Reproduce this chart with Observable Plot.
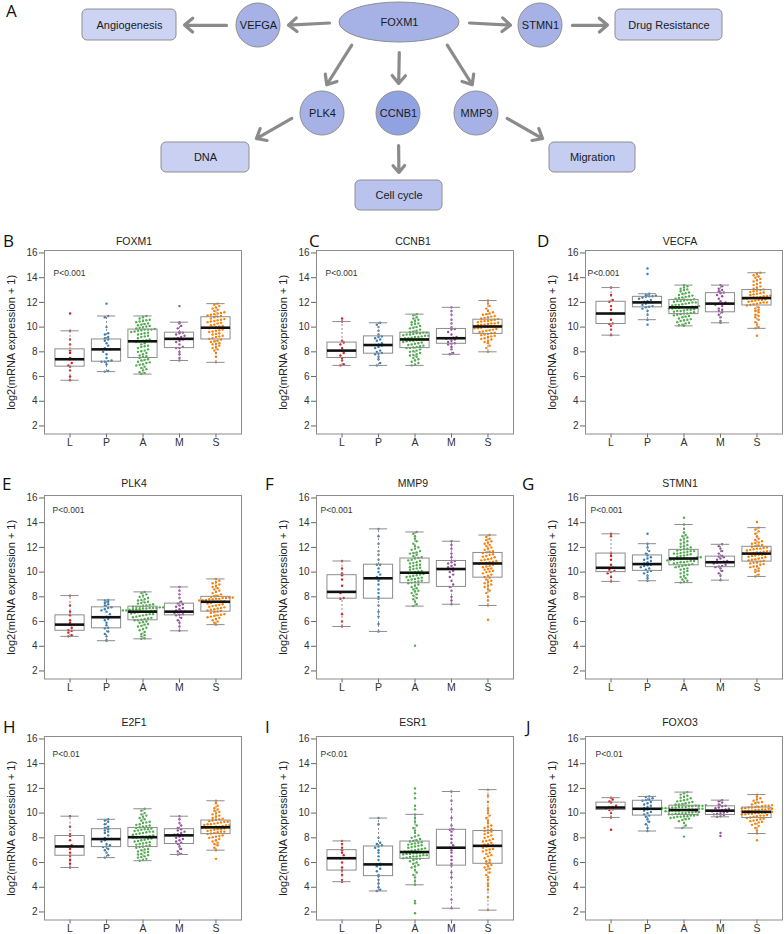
<!DOCTYPE html>
<html>
<head>
<meta charset="utf-8">
<script src="https://cdn.jsdelivr.net/npm/d3@7"></script>
<script src="https://cdn.jsdelivr.net/npm/@observablehq/plot@0.6"></script>
<style>
  body { margin: 0; background: #fff; }
  #fig { position: relative; width: 784px; height: 934px; overflow: hidden; font-family: "Liberation Sans", Arial, sans-serif; color: #222; }
  .abs { position: absolute; }
  .letter { font-family: "Open Sans", "Liberation Sans", sans-serif; font-size: 17px; line-height: 17px; color: #111; }
  .ptitle { font-size: 10.5px; line-height: 11px; text-align: center; color: #222; }
  svg { overflow: visible; }
</style>
</head>
<body>
<div id="fig"></div>
<script>
// ---------------- DATA ----------------
const groups = ["L", "P", "A", "M", "S"];
const genes = ["FOXM1", "CCNB1", "VECFA", "PLK4", "MMP9", "STMN1", "E2F1", "ESR1", "FOXO3"];
const panelLetters = ["B", "C", "D", "E", "F", "G", "H", "I", "J"];
const pLabels = ["P<0.001", "P<0.001", "P<0.001", "P<0.001", "P<0.001", "P<0.001", "P<0.01", "P<0.01", "P<0.01"];
const yTickValues = [2, 4, 6, 8, 10, 12, 14, 16];
const yAxisLabel = "log2(mRNA expression + 1)";

// box statistics per group: [lower whisker, Q1, median, Q3, upper whisker]
const boxFOXM1 = [[5.7, 6.8, 7.4, 8.2, 9.7], [6.4, 7.2, 8.2, 9.0, 10.9], [6.2, 7.5, 8.85, 9.8, 10.9], [7.3, 8.3, 9.05, 9.55, 10.4], [7.15, 9.0, 9.95, 10.8, 11.9]];
const boxCCNB1 = [[6.9, 7.5, 8.1, 8.75, 10.45], [6.9, 7.85, 8.55, 9.25, 10.35], [6.9, 8.3, 9.0, 9.55, 11.05], [7.8, 8.65, 9.1, 9.85, 11.6], [8.0, 9.45, 10.05, 10.6, 12.15]];
const boxVECFA = [[9.35, 10.25, 11.1, 12.05, 13.2], [10.6, 11.6, 12.0, 12.45, 12.7], [10.1, 11.05, 11.6, 12.2, 13.4], [10.35, 11.2, 11.9, 12.75, 13.4], [9.9, 11.75, 12.35, 13.0, 14.4]];
const boxPLK4 = [[4.8, 5.25, 5.75, 6.5, 8.1], [4.45, 5.45, 6.35, 7.15, 7.75], [4.6, 6.1, 6.8, 7.2, 8.4], [5.25, 6.5, 6.8, 7.45, 8.8], [5.75, 6.8, 7.6, 8.0, 9.45]];
const boxMMP9 = [[5.6, 7.85, 8.4, 9.75, 10.9], [5.2, 7.85, 9.5, 10.6, 13.5], [7.25, 9.1, 9.95, 11.1, 13.25], [7.4, 8.8, 10.25, 10.9, 12.5], [7.3, 9.55, 10.7, 11.55, 13.0]];
const boxSTMN1 = [[9.25, 10.0, 10.35, 11.5, 13.1], [9.3, 10.1, 10.65, 11.35, 12.3], [9.15, 10.55, 11.1, 11.8, 13.85], [9.35, 10.4, 10.8, 11.25, 12.25], [9.65, 10.85, 11.5, 12.05, 13.6]];
const boxE2F1 = [[5.6, 6.55, 7.3, 8.15, 9.75], [6.4, 7.25, 7.9, 8.7, 9.5], [6.15, 7.25, 8.05, 8.8, 10.35], [6.65, 7.5, 8.2, 8.7, 9.75], [7.0, 8.3, 8.85, 9.4, 11.0]];
const boxESR1 = [[4.45, 5.35, 6.35, 7.0, 7.75], [3.7, 4.9, 5.85, 7.3, 9.6], [4.2, 6.3, 6.85, 7.7, 9.9], [2.3, 5.75, 7.2, 8.65, 11.75], [2.15, 5.9, 7.35, 8.55, 11.9]];
const boxFOXO3 = [[9.65, 10.25, 10.45, 10.85, 11.25], [8.55, 9.8, 10.35, 11.0, 11.35], [8.8, 9.85, 10.25, 10.6, 11.7], [9.7, 9.85, 10.2, 10.55, 11.05], [8.35, 9.6, 10.1, 10.45, 11.5]];

// individual samples per group (L, P, A, M, S)
const ptsFOXM1 = [
  "5.7 6.0 6.5 6.8 6.9 7.1 7.4 7.5 7.9 8.1 8.6 9.0 9.7 11.1",
  "6.4 6.45 7.0 7.2 7.2 7.25 7.3 7.5 7.8 8.0 8.2 8.2 8.3 8.5 8.7 8.9 9.0 9.1 9.2 9.4 9.5 10.0 10.8 10.9 11.9",
  "6.2 6.3 6.35 6.5 6.6 6.7 6.8 6.9 6.95 7.0 7.1 7.15 7.2 7.3 7.35 7.4 7.5 7.6 7.65 7.7 7.8 7.9 8.0 8.05 8.1 8.2 8.3 8.4 8.45 8.5 8.6 8.7 8.8 8.85 8.9 8.95 9.0 9.1 9.2 9.25 9.3 9.4 9.45 9.5 9.55 9.6 9.65 9.7 9.75 9.8 9.8 9.8 9.85 9.9 9.95 10.0 10.05 10.1 10.15 10.2 10.25 10.3 10.4 10.45 10.5 10.55 10.6 10.7 10.8 10.9",
  "7.3 7.5 7.8 8.0 8.3 8.3 8.4 8.6 8.8 8.9 9.0 9.05 9.1 9.2 9.3 9.4 9.5 9.55 9.6 9.9 10.1 10.3 10.4 11.7",
  "7.15 7.6 7.9 8.1 8.2 8.3 8.4 8.5 8.6 8.65 8.7 8.8 8.85 8.9 9.0 9.05 9.1 9.2 9.25 9.3 9.4 9.45 9.5 9.6 9.65 9.7 9.75 9.8 9.9 9.95 10.0 10.05 10.1 10.15 10.2 10.3 10.35 10.4 10.45 10.5 10.55 10.6 10.65 10.7 10.8 10.85 10.9 10.95 11.0 11.05 11.1 11.15 11.2 11.3 11.4 11.5 11.6 11.7 11.8 11.9"
];
const ptsCCNB1 = [
  "6.9 7.0 7.3 7.5 7.7 7.9 8.1 8.3 8.6 8.75 8.9 10.45 10.7",
  "6.9 7.1 7.4 7.6 7.8 7.85 7.9 8.0 8.1 8.3 8.4 8.5 8.55 8.6 8.7 8.9 9.0 9.1 9.2 9.25 9.4 9.7 10.0 10.2 10.35",
  "6.9 6.95 7.1 7.2 7.3 7.4 7.5 7.6 7.7 7.75 7.8 7.9 8.0 8.05 8.1 8.2 8.3 8.3 8.35 8.4 8.45 8.5 8.55 8.6 8.65 8.7 8.75 8.8 8.85 8.9 8.9 8.95 9.0 9.0 9.0 9.05 9.1 9.1 9.15 9.2 9.2 9.25 9.3 9.3 9.35 9.4 9.4 9.45 9.5 9.5 9.55 9.55 9.6 9.65 9.7 9.8 9.9 9.95 10.0 10.1 10.2 10.25 10.3 10.4 10.5 10.6 10.7 10.8 10.95 11.05",
  "7.8 7.9 8.2 8.4 8.6 8.65 8.7 8.8 8.9 9.0 9.05 9.1 9.15 9.2 9.4 9.6 9.8 9.85 10.0 10.3 10.6 11.0 11.3 11.6",
  "8.0 8.3 8.5 8.7 8.8 8.9 9.0 9.05 9.1 9.2 9.25 9.3 9.35 9.4 9.45 9.5 9.55 9.6 9.65 9.7 9.75 9.8 9.85 9.9 9.9 9.95 10.0 10.0 10.05 10.05 10.1 10.1 10.15 10.2 10.2 10.25 10.3 10.3 10.35 10.4 10.45 10.5 10.5 10.55 10.6 10.65 10.7 10.75 10.8 10.85 10.9 11.0 11.05 11.1 11.2 11.3 11.5 11.7 11.9 12.15"
];
const ptsVECFA = [
  "9.35 9.8 10.1 10.25 10.3 10.6 11.1 11.4 11.7 12.05 12.2 12.6 13.2",
  "10.2 10.6 11.0 11.3 11.5 11.6 11.65 11.7 11.8 11.9 12.0 12.0 12.05 12.1 12.2 12.3 12.4 12.45 12.5 12.5 12.55 12.6 12.7 14.3 14.75",
  "10.1 10.15 10.2 10.3 10.35 10.4 10.5 10.55 10.6 10.65 10.7 10.8 10.85 10.9 10.95 11.0 11.05 11.1 11.1 11.15 11.2 11.25 11.3 11.3 11.35 11.4 11.4 11.45 11.5 11.5 11.55 11.55 11.6 11.6 11.6 11.65 11.65 11.7 11.75 11.8 11.8 11.85 11.9 11.95 12.0 12.0 12.05 12.1 12.1 12.15 12.2 12.2 12.25 12.3 12.35 12.4 12.45 12.5 12.55 12.6 12.7 12.75 12.8 12.9 13.0 13.05 13.1 13.2 13.3 13.4",
  "10.35 10.5 10.8 11.0 11.2 11.3 11.4 11.5 11.7 11.8 11.9 11.9 12.0 12.1 12.3 12.5 12.6 12.75 12.8 12.9 13.0 13.1 13.3 13.4",
  "9.3 9.9 10.0 10.2 10.4 10.6 10.8 10.9 11.0 11.2 11.3 11.4 11.5 11.6 11.75 11.8 11.85 11.9 11.95 12.0 12.0 12.05 12.1 12.15 12.2 12.2 12.25 12.3 12.3 12.35 12.4 12.4 12.45 12.5 12.5 12.55 12.6 12.65 12.7 12.75 12.8 12.85 12.9 12.95 13.0 13.05 13.1 13.2 13.3 13.4 13.5 13.6 13.7 13.8 13.9 14.0 14.1 14.2 14.3 14.4"
];
const ptsPLK4 = [
  "4.8 4.9 5.1 5.25 5.3 5.5 5.75 5.9 6.1 6.5 6.8 7.3 8.1",
  "4.45 4.5 4.8 5.0 5.2 5.45 5.5 5.7 5.9 6.1 6.2 6.35 6.4 6.6 6.8 6.9 7.0 7.1 7.15 7.3 7.4 7.5 7.6 7.7 7.75",
  "4.6 4.65 4.8 4.9 5.0 5.15 5.3 5.4 5.5 5.6 5.65 5.75 5.8 5.9 5.95 6.0 6.1 6.1 6.15 6.2 6.25 6.3 6.35 6.4 6.45 6.5 6.55 6.6 6.6 6.65 6.7 6.75 6.8 6.8 6.8 6.85 6.85 6.9 6.9 6.95 7.0 7.0 7.0 7.05 7.05 7.1 7.1 7.1 7.15 7.15 7.2 7.2 7.2 7.25 7.3 7.35 7.4 7.45 7.5 7.55 7.6 7.7 7.75 7.8 7.9 8.0 8.1 8.2 8.3 8.4",
  "5.25 5.6 5.9 6.1 6.3 6.5 6.55 6.6 6.7 6.75 6.8 6.8 6.9 7.0 7.1 7.2 7.3 7.4 7.45 7.6 7.9 8.2 8.5 8.8",
  "5.75 5.9 6.0 6.1 6.2 6.3 6.35 6.4 6.45 6.5 6.55 6.6 6.7 6.75 6.8 6.85 6.9 6.95 7.0 7.05 7.1 7.15 7.2 7.25 7.3 7.35 7.4 7.45 7.5 7.6 7.6 7.62 7.65 7.7 7.72 7.75 7.8 7.8 7.85 7.85 7.9 7.9 7.95 7.95 8.0 8.05 8.1 8.2 8.3 8.4 8.5 8.6 8.7 8.8 8.9 9.0 9.1 9.2 9.3 9.45"
];
const ptsMMP9 = [
  "5.6 6.0 6.6 7.85 7.9 8.3 8.4 8.9 9.4 9.75 9.9 10.3 10.9",
  "5.2 5.8 6.4 6.8 7.3 7.85 8.0 8.3 8.6 9.0 9.3 9.5 9.5 9.6 9.8 10.0 10.3 10.6 10.6 11.0 11.4 11.7 12.3 12.9 13.5",
  "4.05 7.25 7.4 7.6 7.8 7.9 8.1 8.2 8.3 8.45 8.5 8.6 8.7 8.8 8.9 9.0 9.1 9.15 9.2 9.25 9.3 9.35 9.4 9.45 9.5 9.55 9.6 9.65 9.7 9.75 9.8 9.85 9.9 9.95 10.0 10.05 10.1 10.2 10.25 10.3 10.35 10.4 10.5 10.55 10.6 10.7 10.75 10.8 10.9 10.95 11.0 11.1 11.15 11.2 11.3 11.4 11.5 11.55 11.6 11.7 11.8 11.9 12.0 12.1 12.3 12.5 12.7 12.9 13.1 13.25",
  "7.4 7.7 8.0 8.5 8.8 9.0 9.3 9.6 9.8 10.0 10.1 10.25 10.3 10.4 10.5 10.6 10.7 10.8 10.9 11.2 11.5 11.9 12.2 12.5",
  "6.15 7.3 7.7 8.0 8.3 8.5 8.6 8.8 8.9 9.0 9.1 9.2 9.3 9.4 9.55 9.6 9.7 9.8 9.9 10.0 10.05 10.1 10.2 10.25 10.3 10.4 10.45 10.5 10.6 10.7 10.7 10.75 10.8 10.85 10.9 10.95 11.0 11.05 11.1 11.2 11.25 11.3 11.4 11.45 11.55 11.6 11.65 11.7 11.8 11.9 12.0 12.1 12.2 12.3 12.4 12.5 12.6 12.7 12.85 13.0"
];
const ptsSTMN1 = [
  "9.25 9.6 9.9 10.0 10.1 10.2 10.35 10.6 11.0 11.3 11.5 12.9 13.1",
  "9.3 9.5 9.7 9.9 10.0 10.1 10.2 10.3 10.4 10.5 10.55 10.6 10.65 10.7 10.8 10.9 11.0 11.1 11.2 11.35 11.5 11.7 12.0 12.3 13.1",
  "9.15 9.2 9.3 9.4 9.5 9.6 9.7 9.8 9.9 10.0 10.1 10.2 10.25 10.3 10.4 10.45 10.5 10.55 10.6 10.65 10.7 10.75 10.8 10.8 10.85 10.9 10.9 10.95 11.0 11.0 11.05 11.05 11.1 11.1 11.1 11.15 11.2 11.2 11.25 11.3 11.35 11.4 11.45 11.5 11.5 11.55 11.6 11.65 11.7 11.7 11.75 11.8 11.85 11.9 12.0 12.05 12.1 12.2 12.3 12.4 12.5 12.6 12.7 12.8 12.9 13.0 13.2 13.5 13.85 14.4",
  "9.35 9.7 9.9 10.1 10.3 10.4 10.45 10.5 10.6 10.7 10.75 10.8 10.85 10.9 11.0 11.1 11.2 11.25 11.3 11.5 11.7 11.9 12.1 12.25",
  "9.65 9.8 10.0 10.1 10.2 10.3 10.4 10.45 10.5 10.6 10.65 10.7 10.75 10.8 10.85 10.9 10.95 11.0 11.05 11.1 11.15 11.2 11.25 11.3 11.35 11.4 11.4 11.45 11.5 11.5 11.5 11.55 11.6 11.6 11.65 11.7 11.7 11.75 11.8 11.85 11.9 11.9 11.95 12.0 12.05 12.1 12.15 12.2 12.3 12.35 12.4 12.5 12.6 12.7 12.9 13.1 13.3 13.45 13.6 14.05"
];
const ptsE2F1 = [
  "5.6 5.9 6.2 6.55 6.8 7.1 7.3 7.4 7.8 8.15 8.3 8.9 9.75",
  "6.4 6.6 6.8 7.0 7.1 7.25 7.3 7.4 7.5 7.7 7.8 7.9 7.9 8.0 8.2 8.4 8.5 8.6 8.7 8.8 8.9 9.1 9.3 9.4 9.5",
  "6.15 6.2 6.3 6.4 6.45 6.5 6.6 6.65 6.7 6.8 6.85 6.9 7.0 7.05 7.1 7.2 7.25 7.3 7.35 7.4 7.45 7.5 7.55 7.6 7.65 7.7 7.75 7.8 7.85 7.9 7.95 8.0 8.0 8.05 8.1 8.1 8.15 8.2 8.25 8.3 8.35 8.4 8.45 8.5 8.5 8.55 8.6 8.65 8.7 8.7 8.75 8.8 8.85 8.9 8.95 9.0 9.05 9.1 9.2 9.25 9.3 9.4 9.5 9.6 9.7 9.8 9.9 10.0 10.2 10.35",
  "6.65 6.7 6.9 7.1 7.3 7.5 7.6 7.7 7.8 7.9 8.0 8.1 8.2 8.25 8.3 8.4 8.5 8.6 8.7 8.8 9.0 9.2 9.5 9.75",
  "6.3 7.0 7.2 7.4 7.5 7.6 7.7 7.8 7.9 8.0 8.05 8.1 8.15 8.2 8.3 8.35 8.4 8.45 8.5 8.5 8.55 8.6 8.65 8.7 8.7 8.75 8.8 8.8 8.85 8.85 8.9 8.9 8.95 9.0 9.0 9.05 9.1 9.1 9.15 9.2 9.25 9.3 9.3 9.35 9.4 9.45 9.5 9.55 9.6 9.7 9.8 9.9 10.0 10.1 10.2 10.3 10.4 10.6 10.8 11.0"
];
const ptsESR1 = [
  "4.45 4.6 5.0 5.35 5.6 6.0 6.35 6.6 6.8 7.0 7.2 7.5 7.75",
  "3.7 3.8 4.0 4.3 4.6 4.9 5.0 5.3 5.5 5.7 5.8 5.85 5.9 6.2 6.5 6.8 7.0 7.2 7.3 7.4 7.5 7.6 8.0 9.1 9.6",
  "1.9 2.7 2.9 4.2 4.5 4.8 5.0 5.2 5.4 5.6 5.7 5.8 5.9 6.0 6.1 6.2 6.3 6.3 6.35 6.4 6.45 6.5 6.5 6.55 6.6 6.6 6.65 6.7 6.7 6.75 6.75 6.8 6.8 6.85 6.9 6.9 6.95 7.0 7.05 7.1 7.15 7.2 7.25 7.3 7.35 7.4 7.45 7.5 7.55 7.6 7.65 7.7 7.75 7.8 7.9 8.0 8.1 8.2 8.4 8.6 8.8 9.0 9.3 9.6 9.9 10.3 10.6 11.2 11.6 12.0",
  "2.3 3.0 4.0 4.8 5.2 5.75 5.9 6.2 6.5 6.8 7.0 7.2 7.4 7.6 7.9 8.2 8.5 8.65 8.7 9.0 9.6 10.3 11.0 11.75",
  "2.15 3.2 3.8 4.1 4.3 4.6 4.8 5.0 5.2 5.4 5.5 5.6 5.7 5.8 5.9 6.0 6.1 6.2 6.35 6.5 6.6 6.7 6.8 6.9 7.0 7.05 7.1 7.2 7.3 7.35 7.4 7.45 7.5 7.6 7.7 7.75 7.8 7.9 8.0 8.1 8.2 8.3 8.4 8.5 8.55 8.6 8.7 8.8 8.9 9.0 9.2 9.4 9.6 9.8 10.0 10.2 10.4 10.9 11.4 11.9"
];
const ptsFOXO3 = [
  "8.65 9.65 10.0 10.25 10.3 10.4 10.45 10.5 10.6 10.85 10.95 11.1 11.25",
  "8.55 8.8 9.1 9.3 9.5 9.7 9.8 9.9 10.0 10.1 10.2 10.3 10.35 10.4 10.5 10.6 10.7 10.8 10.9 11.0 11.05 11.1 11.2 11.3 11.35",
  "8.1 8.8 9.0 9.2 9.35 9.45 9.5 9.55 9.6 9.65 9.7 9.7 9.75 9.75 9.8 9.8 9.85 9.9 9.9 9.95 9.95 10.0 10.0 10.05 10.05 10.1 10.1 10.15 10.15 10.2 10.2 10.2 10.25 10.25 10.3 10.3 10.3 10.35 10.35 10.4 10.4 10.4 10.45 10.45 10.5 10.5 10.5 10.55 10.55 10.6 10.6 10.6 10.65 10.7 10.7 10.75 10.8 10.85 10.9 10.95 11.0 11.05 11.1 11.2 11.25 11.3 11.4 11.5 11.6 11.7",
  "8.15 8.4 9.7 9.75 9.85 9.9 9.95 10.0 10.05 10.1 10.15 10.2 10.2 10.25 10.3 10.35 10.4 10.45 10.55 10.6 10.7 10.85 10.95 11.05",
  "7.8 8.35 8.6 8.8 8.95 9.05 9.15 9.25 9.3 9.35 9.4 9.45 9.5 9.55 9.6 9.65 9.7 9.75 9.8 9.8 9.85 9.9 9.9 9.95 9.95 10.0 10.0 10.05 10.05 10.1 10.1 10.15 10.15 10.2 10.2 10.25 10.25 10.3 10.3 10.35 10.35 10.4 10.4 10.45 10.45 10.5 10.5 10.55 10.6 10.6 10.65 10.7 10.8 10.85 10.9 11.0 11.1 11.2 11.35 11.5"
];

// Panel A diagram: nodes and directed edges
const diagramNodes = ["FOXM1", "VEFGA", "STMN1", "PLK4", "CCNB1", "MMP9", "Angiogenesis", "Drug Resistance", "DNA", "Cell cycle", "Migration"];
const diagramEdges = [
  ["FOXM1", "VEFGA"], ["VEFGA", "Angiogenesis"], ["FOXM1", "STMN1"], ["STMN1", "Drug Resistance"],
  ["FOXM1", "PLK4"], ["FOXM1", "CCNB1"], ["FOXM1", "MMP9"],
  ["PLK4", "DNA"], ["CCNB1", "Cell cycle"], ["MMP9", "Migration"]
];

// ---------------- LAYOUT / STYLE ----------------
const panelBoxes = [boxFOXM1, boxCCNB1, boxVECFA, boxPLK4, boxMMP9, boxSTMN1, boxE2F1, boxESR1, boxFOXO3];
const panelPoints = [ptsFOXM1, ptsCCNB1, ptsVECFA, ptsPLK4, ptsMMP9, ptsSTMN1, ptsE2F1, ptsESR1, ptsFOXO3];
const groupColors = ["#e41a1c", "#377eb8", "#4daf4a", "#984ea3", "#ff7f00"];

const nodeLayout = {
  "FOXM1": {shape: "ellipse", cx: 399, cy: 22, rx: 60, ry: 20, fill: "#a6b2e6"},
  "VEFGA": {shape: "circle", cx: 258, cy: 25, rx: 22, ry: 22, fill: "#a6b2e6"},
  "STMN1": {shape: "circle", cx: 540, cy: 25, rx: 22, ry: 22, fill: "#a6b2e6"},
  "PLK4": {shape: "circle", cx: 322, cy: 113, rx: 22, ry: 22, fill: "#a6b2e6"},
  "CCNB1": {shape: "circle", cx: 398, cy: 113, rx: 22, ry: 22, fill: "#91a2e2"},
  "MMP9": {shape: "circle", cx: 476, cy: 113, rx: 22, ry: 22, fill: "#a6b2e6"},
  "Angiogenesis": {shape: "box", cx: 129, cy: 24.5, rx: 47, ry: 15.5, fill: "#cdd4f3"},
  "Drug Resistance": {shape: "box", cx: 668.5, cy: 24.5, rx: 53.5, ry: 15.5, fill: "#c9d0f2"},
  "DNA": {shape: "box", cx: 205, cy: 157, rx: 44, ry: 15, fill: "#c9d0f2"},
  "Cell cycle": {shape: "box", cx: 398.5, cy: 195, rx: 43.5, ry: 15, fill: "#b9c3ee"},
  "Migration": {shape: "box", cx: 592, cy: 157, rx: 43, ry: 15, fill: "#c5cdf1"}
};
// which side of each node an arrow leaves from / arrives at
const edgePorts = [["w", "e"], ["w", "e"], ["e", "w"], ["e", "w"], ["sw", "n"], ["s", "n"], ["se", "n"], ["w", "ne"], ["s", "n"], ["e", "nw"]];

const fig = document.getElementById("fig");

function port(name, side) {
  const L = nodeLayout[name];
  const d = {n: [0, -1], s: [0, 1], e: [1, 0], w: [-1, 0], ne: [1, -1], nw: [-1, -1], se: [1, 1], sw: [-1, 1]}[side];
  const k = (L.shape !== "box" && d[0] && d[1]) ? Math.SQRT1_2 : 1;
  return [L.cx + d[0] * k * L.rx, L.cy + d[1] * k * L.ry];
}

// ---------- Panel A ----------
(function () {
  const nodes = diagramNodes.map(n => ({name: n, ...nodeLayout[n]}));
  const arrows = diagramEdges.map(([a, b], i) => {
    const [x1, y1] = port(a, edgePorts[i][0]);
    const [x2, y2] = port(b, edgePorts[i][1]);
    const len = Math.hypot(x2 - x1, y2 - y1), ux = (x2 - x1) / len, uy = (y2 - y1) / len;
    return {x1: x1 + ux * 10, y1: y1 + uy * 10, x2: x2 - ux * 8, y2: y2 - uy * 8};
  });
  const ext = () => ({x1: d => d.cx - d.rx, x2: d => d.cx + d.rx, y1: d => d.cy - d.ry, y2: d => d.cy + d.ry});
  const chart = Plot.plot({
    width: 784, height: 190, margin: 0,
    x: {domain: [0, 784], range: [0, 784], axis: null},
    y: {domain: [0, 190], range: [0, 190], axis: null},
    color: {type: "identity"},
    style: {fontFamily: "Liberation Sans, Arial, sans-serif", background: "transparent"},
    marks: [
      Plot.arrow(arrows, {x1: "x1", y1: "y1", x2: "x2", y2: "y2", stroke: "#8b8b8b", strokeWidth: 3.2, headLength: 5, headAngle: 80}),
      Plot.rect(nodes.filter(d => d.shape === "box"), {...ext(), fill: "fill", stroke: "#8e8e8e", strokeWidth: 1, rx: 5, ry: 5}),
      Plot.rect(nodes.filter(d => d.shape === "ellipse"), {...ext(), fill: "fill", stroke: "#8e8e8e", strokeWidth: 1, rx: 60, ry: 20}),
      Plot.rect(nodes.filter(d => d.shape === "circle"), {...ext(), fill: "fill", stroke: "#8e8e8e", strokeWidth: 1, rx: 22, ry: 22}),
      Plot.text(nodes, {x: "cx", y: "cy", text: "name", fontSize: 11, fill: "#1a1a1a"})
    ]
  });
  chart.classList.add("abs");
  chart.style.left = "0px"; chart.style.top = "0px";
  fig.appendChild(chart);
  const a = document.createElement("div");
  a.className = "abs letter"; a.textContent = "A";
  a.style.left = "6px"; a.style.top = "2px";
  fig.appendChild(a);
})();

// ---------- Box plot panels ----------
const colFrameLeft = [44, 316, 585];
const rowFrameTop = [249.5, 494.5, 736];
const rowTitleY = [241, 483, 722];
const colTitleShift = [-8.5, -1.5, -3.5];
const panelLetterPos = [[3, 240], [309, 240], [537, 240], [2, 483], [265, 483], [522, 483], [3, 726], [265, 726], [526, 726]];
const panelPdx = [9, 9, 2, 8, 4, 5, 8, 4, 10];
const rowPdy = [19.5, 11.5, 14.7];
const FRAME_W = 197, FRAME_H = 183.5, ML = 48, MT = 4, MB = 20.5, MR = 4;
const ROW = 0.27, COL = 0.092;

panelBoxes.forEach((box, k) => {
  const r = Math.floor(k / 3), c = k % 3;
  const pts = panelPoints[k];
  const boxData = groups.map((g, i) => ({g, gx: i + 1, lo: box[i][0], q1: box[i][1], med: box[i][2], q3: box[i][3], hi: box[i][4]}));
  const dots = [];
  groups.forEach((g, i) => {
    const vals = pts[i].trim().split(/\s+/).map(Number).sort((a, b) => a - b);
    const rows = d3.group(vals, v => Math.round(v / ROW));
    for (const arr of rows.values()) {
      arr.forEach((v, j) => dots.push({g, x: i + 1 + (j - (arr.length - 1) / 2) * COL, y: v}));
    }
  });
  const chart = Plot.plot({
    width: ML + FRAME_W + MR, height: MT + FRAME_H + MB,
    marginLeft: ML, marginRight: MR, marginTop: MT, marginBottom: MB,
    x: {domain: [0.3, 5.7], label: null},
    y: {domain: [1.35, 16.2], label: null},
    color: {domain: groups, range: groupColors},
    style: {fontFamily: "Liberation Sans, Arial, sans-serif", fontSize: "10px", color: "#333", background: "transparent"},
    marks: [
      Plot.axisY(yTickValues, {tickSize: 5, tickPadding: 2, fontSize: 10, label: null, stroke: "#666"}),
      Plot.axisX([1, 2, 3, 4, 5], {tickSize: 4, tickPadding: 1, fontSize: 10.5, label: null, tickFormat: i => groups[i - 1], stroke: "#666"}),
      Plot.text([yAxisLabel], {frameAnchor: "left", dx: -33, rotate: -90, textAnchor: "middle", text: d => d, fontSize: 11, fill: "#222"}),
      Plot.dot(dots, {x: "x", y: "y", fill: "g", r: 1.2}),
      Plot.ruleX(boxData, {x: "gx", y1: "lo", y2: "q1", stroke: "#8c8c8c", strokeDasharray: "2,2"}),
      Plot.ruleX(boxData, {x: "gx", y1: "q3", y2: "hi", stroke: "#8c8c8c", strokeDasharray: "2,2"}),
      Plot.ruleY(boxData, {y: "lo", x1: d => d.gx - 0.25, x2: d => d.gx + 0.25, stroke: "#8c8c8c"}),
      Plot.ruleY(boxData, {y: "hi", x1: d => d.gx - 0.25, x2: d => d.gx + 0.25, stroke: "#8c8c8c"}),
      Plot.rect(boxData, {x1: d => d.gx - 0.4, x2: d => d.gx + 0.4, y1: "q1", y2: "q3", fill: "none", stroke: "#8c8c8c"}),
      Plot.ruleY(boxData, {y: "med", x1: d => d.gx - 0.4, x2: d => d.gx + 0.4, stroke: "#111", strokeWidth: 2.6}),
      Plot.text([pLabels[k]], {frameAnchor: "top-left", dx: panelPdx[k], dy: rowPdy[r], text: d => d, fontSize: 8.5, fill: "#333", textAnchor: "start"}),
      Plot.frame({stroke: "#8c8c8c"})
    ]
  });
  chart.classList.add("abs");
  chart.style.left = (colFrameLeft[c] - ML) + "px";
  chart.style.top = (rowFrameTop[r] - MT) + "px";
  fig.appendChild(chart);

  const t = document.createElement("div");
  t.className = "abs ptitle"; t.textContent = genes[k];
  t.style.left = (colFrameLeft[c] + colTitleShift[c]) + "px"; t.style.width = FRAME_W + "px";
  t.style.top = (rowTitleY[r] - 5.5) + "px";
  fig.appendChild(t);

  const L = document.createElement("div");
  L.className = "abs letter"; L.textContent = panelLetters[k];
  L.style.left = panelLetterPos[k][0] + "px"; L.style.top = (panelLetterPos[k][1] - 8.5) + "px";
  fig.appendChild(L);
});
</script>
</body>
</html>
